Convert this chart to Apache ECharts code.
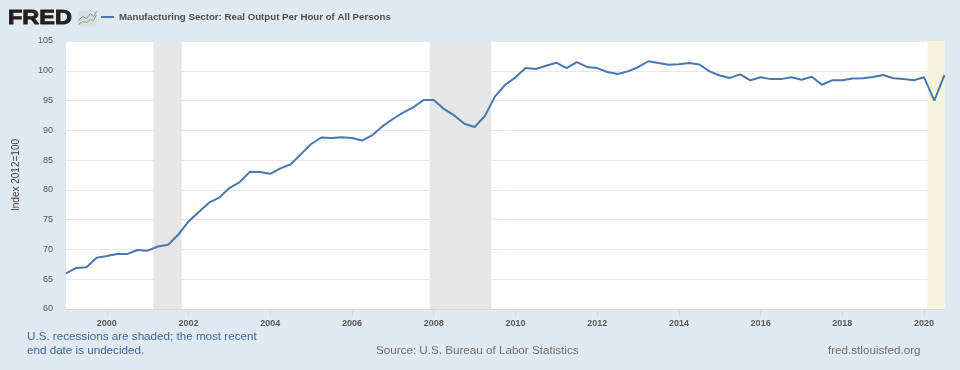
<!DOCTYPE html>
<html><head><meta charset="utf-8">
<style>html,body{margin:0;padding:0;background:#e1e9f0}#c{width:960px;height:370px}</style>
<script src="https://cdn.jsdelivr.net/npm/echarts@6/dist/echarts.min.js"></script>
</head><body><div id="c"></div>
<script>
const seriesName = 'Manufacturing Sector: Real Output Per Hour of All Persons';
const startYear = 1999;
const output = [
 66.0,66.9,67.0,68.6, 68.9,69.25,69.25,69.9, 69.8,70.5,70.8,72.5,
 74.7,76.3,77.85,78.7, 80.3,81.3,83.05,83.0, 82.7,83.6,84.3,86.0,
 87.7,88.8,88.7,88.85, 88.7,88.3,89.2,90.7, 91.9,92.96,93.85,95.1,
 95.1,93.6,92.5,91.1, 90.55,92.4,95.7,97.65, 98.9,100.45,100.3,100.85,
 101.35,100.45,101.45,100.65, 100.45,99.8,99.45,99.9, 100.6,101.6,101.3,101.0,
 101.1,101.3,101.05,99.9, 99.2,98.8,99.4,98.4, 98.9,98.6,98.6,98.9,
 98.5,99.0,97.65,98.4, 98.4,98.7,98.75,98.95, 99.3,98.75,98.6,98.4,
 98.9,95.0,99.3
];
const tickYears = [2000,2002,2004,2006,2008,2010,2012,2014,2016,2018,2020];
const yTicks = {min:60,max:105,step:5};
const recessions = [[2001.14,2001.83],[2007.9,2009.41]];
const undecidedRecession = [2020.083,2020.5];
const footnote = 'U.S. recessions are shaded; the most recent\nend date is undecided.';
const sourceText = 'Source: U.S. Bureau of Labor Statistics';
const siteText = 'fred.stlouisfed.org';

const points = output.map((v,i)=>[startYear+i/4, v]);
const font = '"Liberation Sans", Arial, sans-serif';
const footFont = '11.65px "Liberation Sans", Arial, sans-serif';

const chart = echarts.init(document.getElementById('c'),null,{renderer:'canvas'});
chart.setOption({
  animation:false,
  backgroundColor:'#e1e9f0',
  textStyle:{fontFamily:font},
  grid:{left:66,right:15.5,top:41,bottom:61,show:true,backgroundColor:'#ffffff',borderWidth:0},
  legend:{
    show:true,left:96,top:7,itemWidth:13,itemHeight:2,icon:'rect',itemGap:0,
    textStyle:{color:'#4d4d4d',fontSize:9.7,fontWeight:'bold',fontFamily:font},
    data:[seriesName]
  },
  xAxis:{
    type:'value',
    min:points[0][0],max:points[points.length-1][0],
    axisLine:{show:true,lineStyle:{color:'#d0dcec',width:1}},
    axisTick:{show:true,length:8,customValues:tickYears,lineStyle:{color:'#d0dcec',width:1}},
    axisLabel:{
      customValues:tickYears,margin:10,color:'#595959',fontSize:9,fontWeight:'bold',fontFamily:font,
      formatter:v=>String(v)
    },
    splitLine:{show:false}
  },
  yAxis:{
    type:'value',min:yTicks.min,max:yTicks.max,interval:yTicks.step,
    name:'Index 2012=100',nameLocation:'middle',nameGap:45,
    nameTextStyle:{color:'#404040',fontSize:10,fontFamily:font},
    axisLine:{show:false},axisTick:{show:false},
    axisLabel:{margin:13,color:'#595959',fontSize:9,fontFamily:font,padding:[3,0,0,0]},
    splitLine:{show:true,lineStyle:{color:'#e9e9e9',width:1}}
  },
  series:[{
    name:seriesName,type:'line',data:points,symbol:'none',smooth:false,
    lineStyle:{color:'#4a77ae',width:2},itemStyle:{color:'#4a77ae'},z:5,
    markArea:{silent:true,z:1,data:[
      ...recessions.map(r=>[{xAxis:r[0],itemStyle:{color:'#e6e6e6'}},{xAxis:r[1]}]),
      [{xAxis:undecidedRecession[0],itemStyle:{color:'#f5f4da'}},{xAxis:undecidedRecession[1]}]
    ]}
  }],
  graphic:[
    {type:'text',x:8,y:8,scaleX:1.12,style:{text:'FRED',fill:'#231f20',stroke:'#231f20',lineWidth:0.9,font:'bold 21px "Liberation Sans", Arial, sans-serif'}},
    {type:'group',left:76,top:9,children:[
      {type:'rect',shape:{x:0,y:0,width:18,height:16},style:{fill:'#d6dde3'}},
      {type:'polyline',shape:{points:[[0,14],[4,11],[8,12],[12,9],[15,10],[18,4]]},style:{stroke:'#8aa957',fill:'none',lineWidth:1}},
      {type:'polyline',shape:{points:[[0,10],[4,6],[8,8],[12,3],[15,6],[18,1]]},style:{stroke:'#6d93bd',fill:'none',lineWidth:1}}
    ]},
    {type:'text',left:27,top:330,style:{text:footnote,fill:'#3e68a4',font:footFont,lineHeight:14}},
    {type:'text',left:376,top:345,style:{text:sourceText,fill:'#707070',font:footFont}},
    {type:'text',left:828,top:345,style:{text:siteText,fill:'#707070',font:footFont}}
  ]
});
</script></body></html>
